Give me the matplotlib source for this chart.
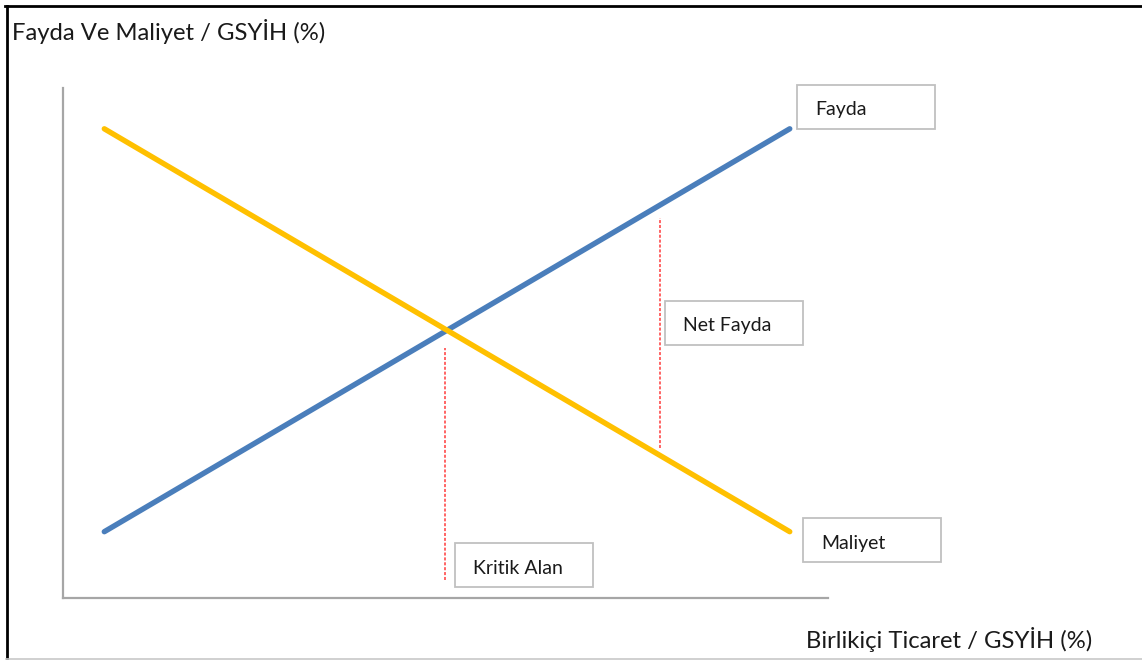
import matplotlib.pyplot as plt
from matplotlib.patches import Rectangle

plt.rcParams["font.family"] = ["Lato", "DejaVu Sans"]

# schematic lines on a 0-10 scale
x_ends = [0.54, 9.5]
fayda = [1.3, 9.2]
maliyet = [9.2, 1.3]

# vertical guides: critical point and net benefit gap
kritik_x = 5.0
kritik_y = [0.35, 4.9]
net_x = 7.8
net_y = [2.95, 7.45]

# label boxes in figure pixels (left, top)
box_labels = ["Fayda", "Net Fayda", "Kritik Alan", "Maliyet"]
box_pos = [(797, 85), (665, 301), (455, 543), (803, 518)]
box_w, box_h = 138, 44

W, H = 1142, 660
fig = plt.figure(figsize=(W / 100, H / 100), dpi=100)

# overlay in pixel coordinates for the frame and label boxes
bg = fig.add_axes([0, 0, 1, 1])
bg.set_xlim(0, W)
bg.set_ylim(H, 0)
bg.axis("off")

ax = fig.add_axes([63 / W, (H - 598) / H, (828 - 63) / W, (598 - 88) / H])
ax.set_xlim(0, 10)
ax.set_ylim(0, 10)
ax.patch.set_alpha(0)
for side in ["top", "right"]:
    ax.spines[side].set_visible(False)
for side in ["left", "bottom"]:
    ax.spines[side].set_color("#a6a6a6")
    ax.spines[side].set_linewidth(1.6)
ax.set_xticks([])
ax.set_yticks([])

ax.plot(x_ends, fayda, color="#4a7ebb", linewidth=3.9, solid_capstyle="round")
ax.plot(x_ends, maliyet, color="#ffc000", linewidth=3.9, solid_capstyle="round")
ax.plot([kritik_x] * 2, kritik_y, color="#ff3b3b", linewidth=1.1, linestyle=(0, (2, 1.2)))
ax.plot([net_x] * 2, net_y, color="#ff3b3b", linewidth=1.1, linestyle=(0, (2, 1.2)))

for label, (bx, by) in zip(box_labels, box_pos):
    bg.add_patch(Rectangle((bx, by), box_w, box_h, facecolor="white",
                           edgecolor="#c0c0c0", linewidth=1.3, zorder=3))
    bg.text(bx + 18, by + box_h / 2 + 3, label, fontsize=14, color="#1a1a1a",
            va="center", ha="left", zorder=4)

bg.text(12, 32, "Fayda Ve Maliyet / GSYİH (%)", fontsize=17.2, color="#1a1a1a",
        va="center", ha="left")
bg.text(806, 640, "Birlikiçi Ticaret / GSYİH (%)", fontsize=17.2, color="#1a1a1a",
        va="center", ha="left")

# outer frame
bg.plot([6.5, 6.5], [5.5, H], color="black", linewidth=2.0)
bg.plot([5, W], [5.5, 5.5], color="black", linewidth=2.0)
bg.plot([6, W], [658.5, 658.5], color="#c8c8c8", linewidth=1.2)

fig.savefig("out.png", dpi=100)
